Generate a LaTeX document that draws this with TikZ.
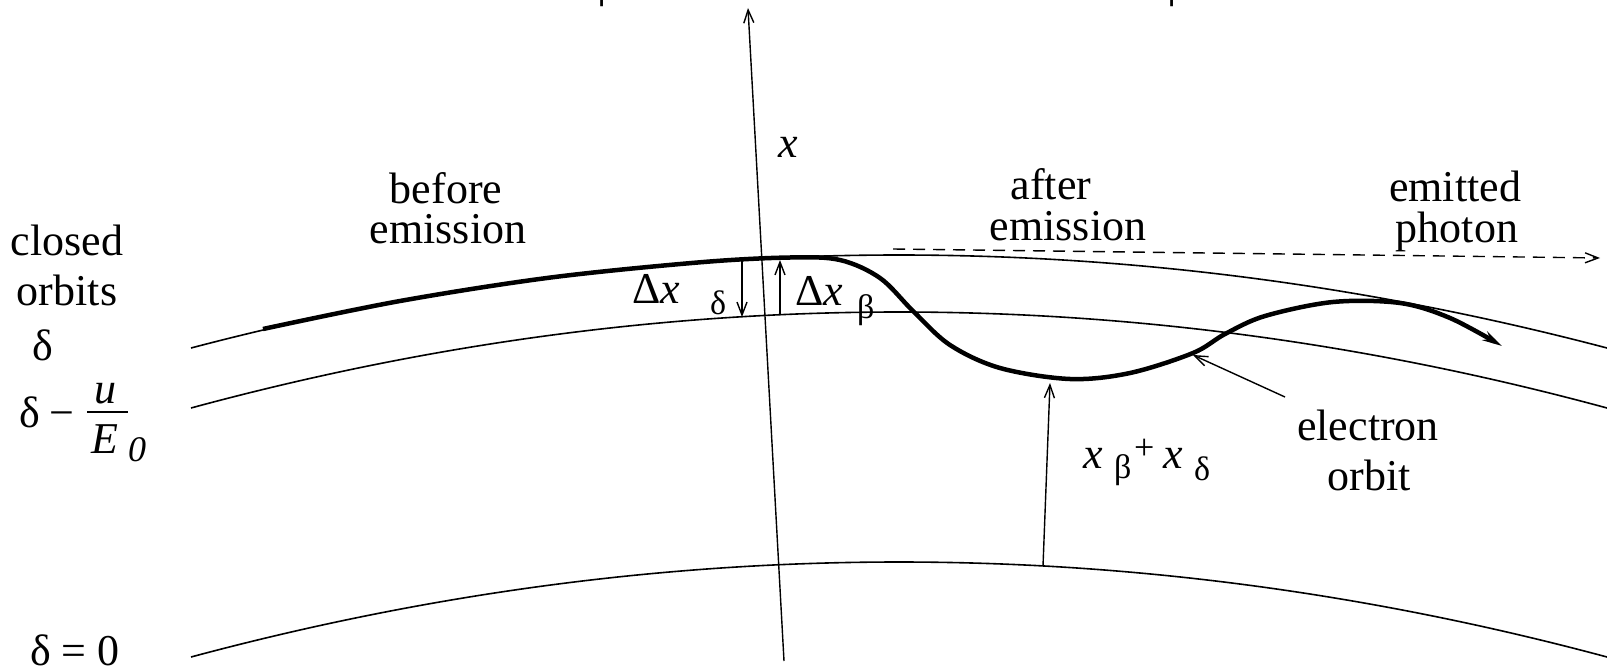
\documentclass[tikz,border=0pt]{standalone}
\usepackage{fontspec}
\setmainfont{Liberation Serif}
\usetikzlibrary{arrows.meta}
\begin{document}
\begin{tikzpicture}[x=1pt,y=-1pt,
  lbl/.style={font=\fontsize{44}{50}\selectfont, inner sep=0pt, anchor=base},
  sub/.style={font=\fontsize{34}{38}\selectfont, inner sep=0pt, anchor=base},
  orbit/.style={line width=1.6pt},
  eorbit/.style={line width=4.5pt, line join=round},
  thinarrow/.style={line width=1.4pt, -{Straight Barb[length=13pt,width=10pt]}}
]
\useasboundingbox (0,0) rectangle (1607,669);

% closed orbits
\draw[orbit] plot[domain=191:1607,samples=120] (\x,{255+93*((\x-899)/708)^2});
\draw[orbit] plot[domain=191:1607,samples=120] (\x,{312+96*((\x-899)/708)^2});
\draw[orbit] plot[domain=191:1607,samples=120] (\x,{562+95*((\x-899)/708)^2});

% coordinates
\coordinate (axb) at (784,661);
\coordinate (axt) at (748,8);
\coordinate (ddtop) at (742,260);
\coordinate (ddbot) at (742,317);
\coordinate (dbbot) at (780,314);
\coordinate (dbtop) at (780,260);
\coordinate (phs) at (893,249);
\coordinate (phe) at (1600,258);
\coordinate (xsb) at (1043,566);
\coordinate (xst) at (1050,383);
\coordinate (eos) at (1285,397);
\coordinate (eoe) at (1193,355);

% x axis
\draw[thinarrow] (axb) -- (axt);

% electron orbit
\draw[eorbit, -{Stealth[length=20pt,width=10pt]}] plot[smooth,tension=0.55] coordinates {(263,329) (400,301) (550,277.6) (700,262.3) (790,257.5) (840,260) (880,278) (913,311) (950,345) (1000,368) (1070,379) (1130,373) (1193,353) (1225,334) (1265,316) (1333,302) (1400,303) (1450,318) (1502,346)};

% small arrows
\draw[thinarrow] (ddtop) -- (ddbot);
\draw[thinarrow] (dbbot) -- (dbtop);
\draw[thinarrow] (xsb) -- (xst);
\draw[thinarrow] (eos) -- (eoe);
\draw[line width=1.4pt, dash pattern=on 12pt off 8pt, -{Straight Barb[length=13pt,width=10pt]}] (phs) -- (phe);

% labels
\node[lbl] (closed) at (67,255) {closed};
\node[lbl] (orbits) at (67,305) {orbits};
\node[lbl] (d1) at (43,360) {δ};
\node[lbl] (d2) at (30,427) {δ};
\node[lbl] (minus) at (62,427) {−};
\node[lbl] (u) at (105,403) {\textit{u}};
\draw[line width=1.5pt] (87,412) -- (128,412);
\node[lbl] (E) at (105,453) {\textit{E}};
\node[sub, font=\fontsize{36}{40}\selectfont] (E0) at (137,461) {\textit{0}};
\node[lbl, anchor=base west] (d0) at (30,665) {δ = 0};

\node[lbl] (before) at (446,203) {before};
\node[lbl] (emis1) at (448,243) {emission};
\node[lbl] (after) at (1051,199) {after};
\node[lbl] (emis2) at (1068,240) {emission};
\node[lbl] (emitted) at (1455,201) {emitted};
\node[lbl] (photon) at (1457,242) {photon};
\node[lbl] (xlab) at (788,157) {\textit{x}};

\node[lbl, anchor=base west] (dxd) at (632,303) {Δ\textit{x}};
\node[sub, anchor=base west] (dxds) at (710,314) {δ};
\node[lbl, anchor=base west] (dxb) at (795,305) {Δ\textit{x}};
\node[sub, anchor=base west] (dxbs) at (857,318) {β};

\node[lbl, anchor=base west] (xb) at (1083,468) {\textit{x}};
\node[sub, anchor=base west] (xbs) at (1114,478) {β};
\node[lbl, anchor=base west, font=\fontsize{36}{40}\selectfont] (plus) at (1134,459) {+};
\node[lbl, anchor=base west] (xd) at (1163,468) {\textit{x}};
\node[sub, anchor=base west] (xds) at (1194,480) {δ};

\node[lbl] (electron) at (1368,440) {electron};
\node[lbl] (orbit) at (1369,490) {orbit};

% cropped labels at the top edge
\node[sub, anchor=base west] (topb1) at (598,0) {β};
\node[sub, anchor=base west] (topb2) at (1168,0) {β};
\end{tikzpicture}
\end{document}
